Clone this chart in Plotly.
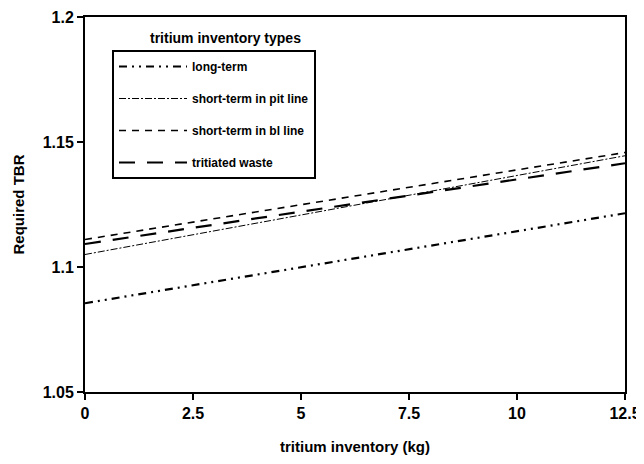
import plotly.graph_objects as go

inventory_kg = [0, 12.5]
long_term = [1.0855, 1.1215]
short_term_pit = [1.105, 1.1445]
short_term_bl = [1.111, 1.1458]
tritiated_waste = [1.1092, 1.1415]

series_names = ["long-term", "short-term in pit line", "short-term in bl line", "tritiated waste"]
x_ticks = [0, 2.5, 5, 7.5, 10, 12.5]
x_tick_labels = ["0", "2.5", "5", "7.5", "10", "12.5"]
y_ticks = [1.05, 1.1, 1.15, 1.2]
y_tick_labels = ["1.05", "1.1", "1.15", "1.2"]

FONT = "Liberation Sans Narrow, Liberation Sans, Arial, sans-serif"

styles = [
    dict(width=2.2, dash="8px,5px,2px,5px,2px,5px"),
    dict(width=1, dash="7px,2px,2px,2px"),
    dict(width=1.6, dash="7px,6px"),
    dict(width=2.2, dash="16px,12px"),
]

fig = go.Figure()
for i, (name, ys) in enumerate(zip(series_names, [long_term, short_term_pit, short_term_bl, tritiated_waste])):
    fig.add_trace(go.Scatter(
        x=inventory_kg, y=ys, mode="lines", name=name,
        line=dict(color="black", **styles[i]),
        legendgroup=f"g{i}",
    ))

fig.update_layout(
    width=636, height=456,
    margin=dict(l=77, r=19, t=9, b=72),
    paper_bgcolor="white", plot_bgcolor="white",
    font=dict(family=FONT, size=12, color="black", weight="bold"),
    showlegend=True,
    legend=dict(
        x=0.05, y=0.912, xanchor="left", yanchor="top",
        bordercolor="black", borderwidth=2, bgcolor="white",
        font=dict(family=FONT, size=12, color="black", weight="bold"),
        tracegroupgap=13, itemwidth=68,
    ),
    xaxis=dict(
        range=[0, 12.5], tickvals=x_ticks, ticktext=x_tick_labels,
        showgrid=False, zeroline=False, showline=True, linecolor="black", linewidth=2,
        mirror=True, ticks="outside", ticklen=6, tickwidth=2, tickcolor="black",
        title=dict(text="tritium inventory (kg)", standoff=20, font=dict(size=15)),
        tickfont=dict(size=16), automargin=False, ticklabeloverflow="allow",
    ),
    yaxis=dict(
        range=[1.05, 1.2], tickvals=y_ticks, ticktext=y_tick_labels,
        showgrid=False, zeroline=False, showline=True, linecolor="black", linewidth=2,
        mirror=True, ticks="outside", ticklen=6, tickwidth=2, tickcolor="black",
        title=dict(text="Required TBR", standoff=14, font=dict(size=15)),
        tickfont=dict(size=16), automargin=False, ticklabeloverflow="allow",
    ),
    annotations=[dict(
        text="tritium inventory types", xref="paper", yref="paper",
        x=0.261, y=0.944, xanchor="center", yanchor="middle", showarrow=False,
        font=dict(family=FONT, size=14, color="black", weight="bold"),
    )],
)

fig.write_html("out.html")
